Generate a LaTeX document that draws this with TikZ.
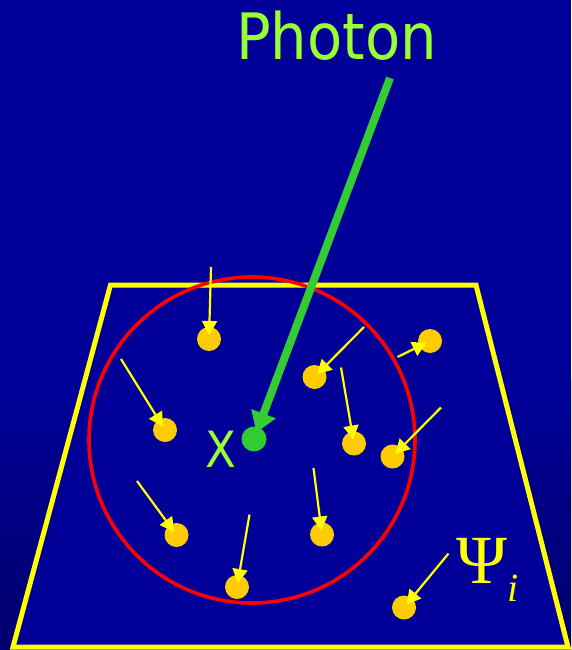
\documentclass[tikz,border=0pt]{standalone}
\usepackage{fontspec}
\usetikzlibrary{arrows.meta}
\newfontfamily\labfont{DejaVu Sans Condensed}
\newfontfamily\psifont{Liberation Serif}
\definecolor{bgA}{RGB}{0,0,153}
\definecolor{bgB}{RGB}{0,0,108}
\definecolor{frameY}{RGB}{255,255,0}
\definecolor{ringR}{RGB}{255,0,0}
\definecolor{photonG}{RGB}{51,204,51}
\definecolor{textG}{RGB}{153,255,51}
\definecolor{dotO}{RGB}{255,204,0}
\tikzset{
  dot/.style={circle,fill=dotO,minimum size=24pt,inner sep=0pt},
  gdot/.style={circle,fill=photonG,minimum size=25pt,inner sep=0pt},
  yarr/.style={draw=frameY,line width=2.2pt,shorten >=4pt,-{Triangle[length=14pt,width=15pt]}},
  garr/.style={draw=photonG,line width=8pt,shorten >=7pt,-{Triangle[length=20pt,width=25pt]}},
}
\begin{document}
\begin{tikzpicture}[x=1pt,y=-1pt]
\useasboundingbox (0,0) rectangle (571,650);
\fill[bgA] (0,0) rectangle (571,650);
\shade[top color=bgA,bottom color=bgB] (0,380) rectangle (571,650);
% plane
\draw[draw=frameY,fill=bgA,line width=5pt,line join=miter] (110.5,285) -- (476,285) -- (568,647) -- (13,647) -- cycle;
% region circle
\draw[ringR,line width=3.6pt] (252,440) circle[radius=163];
% electrons
\node[dot] (d1) at (209,339) {};
\node[dot] (d2) at (165,430) {};
\node[dot] (d3) at (314.5,377) {};
\node[dot] (d4) at (430,341) {};
\node[dot] (d5) at (354,443.5) {};
\node[dot] (d6) at (392.5,456.5) {};
\node[dot] (d7) at (176.5,535) {};
\node[dot] (d8) at (237,587) {};
\node[dot] (d9) at (322,534.5) {};
\node[dot] (d10) at (404,607.5) {};
\coordinate (s1) at (211,267);
\coordinate (s2) at (121,359);
\coordinate (s3) at (364,327);
\coordinate (s4) at (397.5,357);
\coordinate (s5) at (341,367.5);
\coordinate (s6) at (441,407.5);
\coordinate (s7) at (137,481);
\coordinate (s8) at (249.5,514.5);
\coordinate (s9) at (313.5,468);
\coordinate (s10) at (448.5,553.5);
\foreach \i in {1,...,10} {\draw[yarr] (s\i) -- (d\i.center);}
% photon
\node[gdot] (x0) at (254,439) {};
\coordinate (ps) at (390,78);
\draw[garr] (ps) -- (x0.center);
\node[anchor=base,text=textG,font=\labfont\fontsize{64}{64}\selectfont,inner sep=0pt] (ph) at (336.5,60) {Photon};
\node[anchor=base,text=textG,font=\labfont\fontsize{50}{50}\selectfont,inner sep=0pt] (xl) at (220.5,467) {X};
\node[anchor=base west,text=frameY,inner sep=0pt] (psi) at (456,583) {\psifont\fontsize{69}{69}\selectfont Ψ\raisebox{-18pt}{\fontsize{40}{40}\selectfont\itshape i}};
\end{tikzpicture}
\end{document}
